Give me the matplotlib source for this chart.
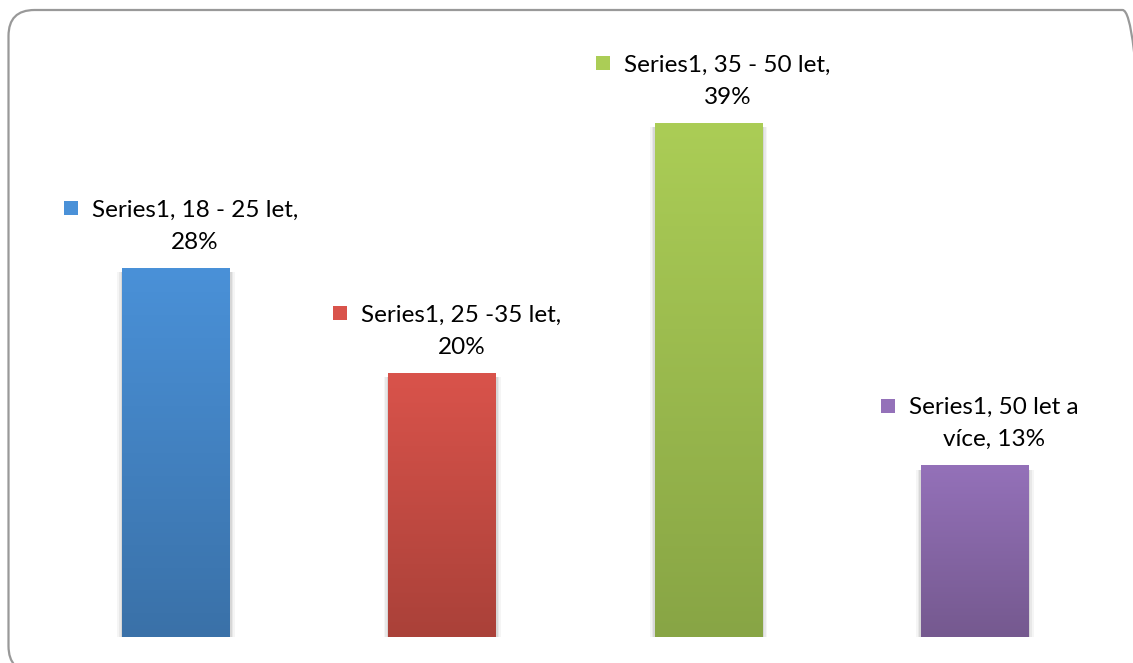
import numpy as np
import matplotlib.pyplot as plt
from matplotlib.patches import FancyBboxPatch, Rectangle
from matplotlib.colors import LinearSegmentedColormap
from matplotlib.transforms import IdentityTransform

plt.rcParams['font.family'] = ['Lato', 'DejaVu Sans']

# age groups and their shares (%)
groups = ['18 - 25 let', '25 -35 let', '35 - 50 let', '50 let a více']
shares = [28, 20, 39, 13]
series_name = 'Series1'
# first / second line of each data label
label_lines = [
    ('Series1, 18 - 25 let,', '28%'),
    ('Series1, 25 -35 let,', '20%'),
    ('Series1, 35 - 50 let,', '39%'),
    ('Series1, 50 let a', 'více, 13%'),
]
top_colors = ['#4a91d8', '#d9534b', '#abcd56', '#9471b9']
bottom_colors = ['#3a71a8', '#aa4139', '#88a545', '#75598f']

W, H = 1133, 663
fig = plt.figure(figsize=(W / 100, H / 100), dpi=100)
fig.patch.set_facecolor('white')

# rounded frame, in display pixels (origin bottom-left)
frame = FancyBboxPatch((8.5, -9), 1140, H - 10 + 9,
                       boxstyle='round,pad=0,rounding_size=26',
                       transform=IdentityTransform(), facecolor='none',
                       edgecolor='#999999', linewidth=1.6, zorder=-1)
fig.patches.append(frame)

ax = fig.add_axes([43 / W, 26 / H, 1065 / W, 593 / H])
ax.set_xlim(-0.5, len(shares) - 0.5)
ax.set_ylim(0, 45)
ax.axis('off')

bw = 0.405
x = np.arange(len(shares))
grad = np.linspace(0, 1, 256).reshape(-1, 1)
for i, v in enumerate(shares):
    # soft shadow
    for k, a in enumerate([0.04, 0.05, 0.07]):
        d = (3 - k) * 0.006
        ax.add_patch(Rectangle((x[i] - bw / 2 - d, -0.3 - d * 8), bw + 2 * d, v + d * 8,
                               facecolor='black', alpha=a, linewidth=0, zorder=1))
    cmap = LinearSegmentedColormap.from_list('g%d' % i, [bottom_colors[i], top_colors[i]])
    ax.imshow(grad, cmap=cmap, origin='lower', aspect='auto',
              extent=[x[i] - bw / 2, x[i] + bw / 2, 0, v], zorder=2)

fig.canvas.draw()
renderer = fig.canvas.get_renderer()
fs = 17.5
for i, v in enumerate(shares):
    l1, l2 = label_lines[i]
    t1 = ax.annotate(l1, (x[i], v), xytext=(19, 58), textcoords='offset pixels',
                     ha='center', va='center', fontsize=fs, color='black')
    ax.annotate(l2, (x[i], v), xytext=(19, 26), textcoords='offset pixels',
                ha='center', va='center', fontsize=fs, color='black')
    bb = t1.get_window_extent(renderer)
    # legend key left of the first line
    kx = bb.x0 - 14 - 14
    ky = ax.transData.transform((x[i], v))[1] + 58 + 2 - 7
    fig.patches.append(Rectangle((kx / W, ky / H), 14 / W, 14 / H,
                                 transform=fig.transFigure,
                                 facecolor=top_colors[i], edgecolor='none'))

fig.savefig('out.png', dpi=100)
